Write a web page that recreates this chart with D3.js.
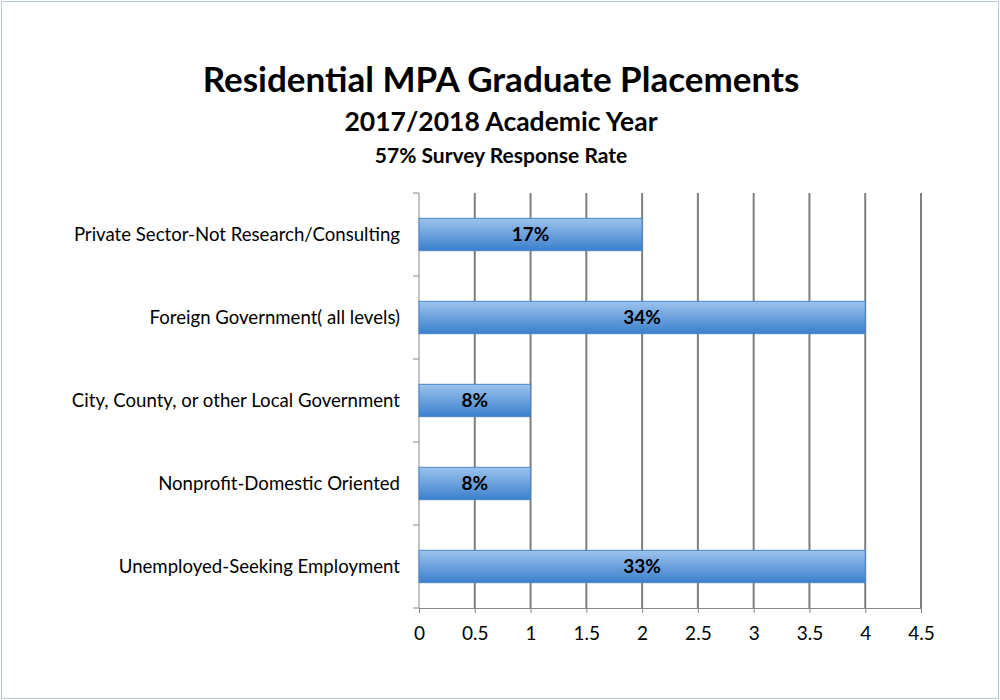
<!DOCTYPE html><html><head><meta charset="utf-8"><script src="https://d3js.org/d3.v7.min.js"></script>
<style>body{margin:0;background:#fff}</style></head><body><svg id="c" width="1000" height="700"></svg>
<script>
const categories=["Private Sector-Not Research/Consulting","Foreign Government( all levels)","City, County, or other Local Government","Nonprofit-Domestic Oriented","Unemployed-Seeking Employment"];
const values=[2,4,1,1,4];
const labels=["17%","34%","8%","8%","33%"];
const ticks=[0,0.5,1,1.5,2,2.5,3,3.5,4,4.5];
const svg=d3.select("#c"),F="Lato, 'Open Sans', sans-serif";
svg.append("rect").attr("x",1.5).attr("y",1.5).attr("width",997).attr("height",697).attr("fill","#fff").attr("stroke","#b8c4d8");
const x=d3.scaleLinear().domain([0,4.5]).range([419,921]);
const y=d3.scaleBand().domain(categories).range([193,608]).paddingInner(0.61).paddingOuter(0.305);
const g=svg.append("defs").append("linearGradient").attr("id","gr").attr("x1",0).attr("x2",0).attr("y1",0).attr("y2",1);
g.append("stop").attr("offset",0).attr("stop-color","#9cc3ee");g.append("stop").attr("offset",1).attr("stop-color","#3b7fcc");
ticks.slice(1).forEach(t=>svg.append("line").attr("x1",x(t)).attr("x2",x(t)).attr("y1",193).attr("y2",608).attr("stroke","#7f7f7f").attr("stroke-width",2));
const ax=svg.append("g").attr("transform","translate(0,608)").call(d3.axisBottom(x).tickValues(ticks).tickSize(5).tickFormat(d3.format("")));
ax.select(".domain").attr("stroke","#888");ax.selectAll("line").attr("stroke","#888");
ax.selectAll("text").attr("font-family",F).attr("font-size",19).attr("fill","#000").attr("dy","1.25em");
svg.append("line").attr("x1",419).attr("x2",419).attr("y1",193).attr("y2",608).attr("stroke","#888");
d3.range(6).forEach(i=>svg.append("line").attr("x1",413).attr("x2",419).attr("y1",193+i*83).attr("y2",193+i*83).attr("stroke","#888"));
categories.forEach((c,i)=>{
 svg.append("rect").attr("x",x(0)).attr("y",y(c)).attr("width",x(values[i])-x(0)).attr("height",y.bandwidth()).attr("fill","url(#gr)").attr("stroke","#4a86c8");
 svg.append("text").attr("x",(x(0)+x(values[i]))/2).attr("y",y(c)+y.bandwidth()/2).attr("dy","0.36em").attr("text-anchor","middle").attr("font-family",F).attr("font-weight","bold").attr("font-size",19).text(labels[i]);
 svg.append("text").attr("x",400).attr("y",y(c)+y.bandwidth()/2).attr("dy","0.36em").attr("text-anchor","end").attr("font-family",F).attr("font-size",18.6).text(c);
});
[["Residential MPA Graduate Placements",92,35],["2017/2018 Academic Year",131,26.5],["57% Survey Response Rate",163,21]].forEach(t=>
 svg.append("text").attr("x",501).attr("y",t[1]).attr("text-anchor","middle").attr("font-family",F).attr("font-weight","bold").attr("font-size",t[2]).text(t[0]));
</script></body></html>
